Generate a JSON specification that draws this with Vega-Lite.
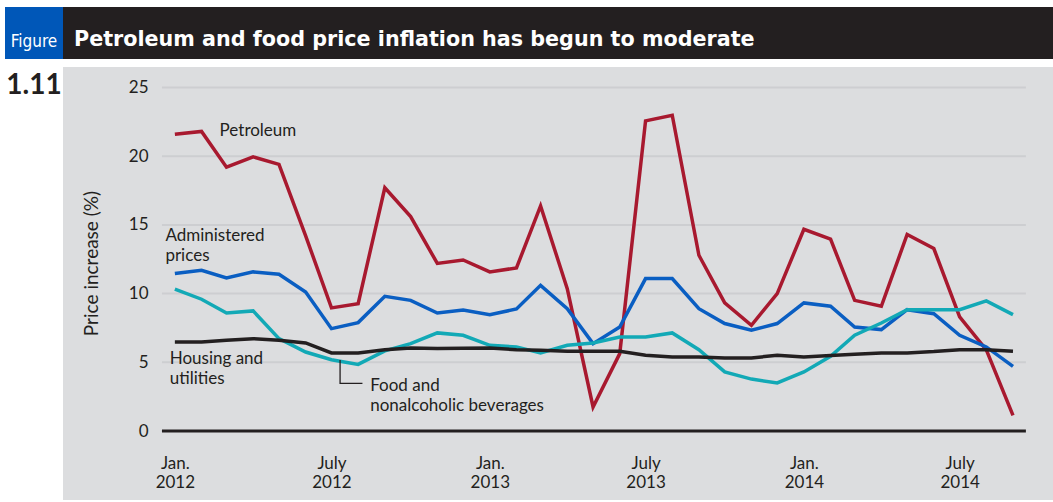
{
  "$schema": "https://vega.github.io/schema/vega-lite/v6.json",
  "padding": {"left": 5, "top": 7, "right": 0, "bottom": 0},
  "background": "#ffffff",
  "config": {"view": {"stroke": null}, "font": "Lato"},
  "datasets": {
    "prices": [
      {"series": "Petroleum", "date": "2012-01-01", "value": 21.6},
      {"series": "Petroleum", "date": "2012-02-01", "value": 21.8},
      {"series": "Petroleum", "date": "2012-03-01", "value": 19.2},
      {"series": "Petroleum", "date": "2012-04-01", "value": 19.95},
      {"series": "Petroleum", "date": "2012-05-01", "value": 19.4},
      {"series": "Petroleum", "date": "2012-06-01", "value": 14.2},
      {"series": "Petroleum", "date": "2012-07-01", "value": 8.96},
      {"series": "Petroleum", "date": "2012-08-01", "value": 9.27},
      {"series": "Petroleum", "date": "2012-09-01", "value": 17.7},
      {"series": "Petroleum", "date": "2012-10-01", "value": 15.6},
      {"series": "Petroleum", "date": "2012-11-01", "value": 12.2},
      {"series": "Petroleum", "date": "2012-12-01", "value": 12.45},
      {"series": "Petroleum", "date": "2013-01-01", "value": 11.58},
      {"series": "Petroleum", "date": "2013-02-01", "value": 11.87},
      {"series": "Petroleum", "date": "2013-03-01", "value": 16.38},
      {"series": "Petroleum", "date": "2013-04-01", "value": 10.36},
      {"series": "Petroleum", "date": "2013-05-01", "value": 1.75},
      {"series": "Petroleum", "date": "2013-06-01", "value": 5.63},
      {"series": "Petroleum", "date": "2013-07-01", "value": 22.57},
      {"series": "Petroleum", "date": "2013-08-01", "value": 22.98},
      {"series": "Petroleum", "date": "2013-09-01", "value": 12.79},
      {"series": "Petroleum", "date": "2013-10-01", "value": 9.32},
      {"series": "Petroleum", "date": "2013-11-01", "value": 7.69},
      {"series": "Petroleum", "date": "2013-12-01", "value": 10.0},
      {"series": "Petroleum", "date": "2014-01-01", "value": 14.68},
      {"series": "Petroleum", "date": "2014-02-01", "value": 13.96},
      {"series": "Petroleum", "date": "2014-03-01", "value": 9.51},
      {"series": "Petroleum", "date": "2014-04-01", "value": 9.08},
      {"series": "Petroleum", "date": "2014-05-01", "value": 14.3},
      {"series": "Petroleum", "date": "2014-06-01", "value": 13.28},
      {"series": "Petroleum", "date": "2014-07-01", "value": 8.3},
      {"series": "Petroleum", "date": "2014-08-01", "value": 5.9},
      {"series": "Petroleum", "date": "2014-09-01", "value": 1.14},
      {"series": "Administered prices", "date": "2012-01-01", "value": 11.46},
      {"series": "Administered prices", "date": "2012-02-01", "value": 11.7},
      {"series": "Administered prices", "date": "2012-03-01", "value": 11.14},
      {"series": "Administered prices", "date": "2012-04-01", "value": 11.58},
      {"series": "Administered prices", "date": "2012-05-01", "value": 11.41},
      {"series": "Administered prices", "date": "2012-06-01", "value": 10.12},
      {"series": "Administered prices", "date": "2012-07-01", "value": 7.45},
      {"series": "Administered prices", "date": "2012-08-01", "value": 7.89},
      {"series": "Administered prices", "date": "2012-09-01", "value": 9.8},
      {"series": "Administered prices", "date": "2012-10-01", "value": 9.51},
      {"series": "Administered prices", "date": "2012-11-01", "value": 8.59},
      {"series": "Administered prices", "date": "2012-12-01", "value": 8.8},
      {"series": "Administered prices", "date": "2013-01-01", "value": 8.47},
      {"series": "Administered prices", "date": "2013-02-01", "value": 8.88},
      {"series": "Administered prices", "date": "2013-03-01", "value": 10.6},
      {"series": "Administered prices", "date": "2013-04-01", "value": 8.9},
      {"series": "Administered prices", "date": "2013-05-01", "value": 6.36},
      {"series": "Administered prices", "date": "2013-06-01", "value": 7.57},
      {"series": "Administered prices", "date": "2013-07-01", "value": 11.09},
      {"series": "Administered prices", "date": "2013-08-01", "value": 11.09},
      {"series": "Administered prices", "date": "2013-09-01", "value": 8.9},
      {"series": "Administered prices", "date": "2013-10-01", "value": 7.82},
      {"series": "Administered prices", "date": "2013-11-01", "value": 7.33},
      {"series": "Administered prices", "date": "2013-12-01", "value": 7.82},
      {"series": "Administered prices", "date": "2014-01-01", "value": 9.32},
      {"series": "Administered prices", "date": "2014-02-01", "value": 9.08},
      {"series": "Administered prices", "date": "2014-03-01", "value": 7.57},
      {"series": "Administered prices", "date": "2014-04-01", "value": 7.38},
      {"series": "Administered prices", "date": "2014-05-01", "value": 8.83},
      {"series": "Administered prices", "date": "2014-06-01", "value": 8.54},
      {"series": "Administered prices", "date": "2014-07-01", "value": 6.97},
      {"series": "Administered prices", "date": "2014-08-01", "value": 6.12},
      {"series": "Administered prices", "date": "2014-09-01", "value": 4.71},
      {"series": "Food and nonalcoholic beverages", "date": "2012-01-01", "value": 10.32},
      {"series": "Food and nonalcoholic beverages", "date": "2012-02-01", "value": 9.59},
      {"series": "Food and nonalcoholic beverages", "date": "2012-03-01", "value": 8.59},
      {"series": "Food and nonalcoholic beverages", "date": "2012-04-01", "value": 8.74},
      {"series": "Food and nonalcoholic beverages", "date": "2012-05-01", "value": 6.72},
      {"series": "Food and nonalcoholic beverages", "date": "2012-06-01", "value": 5.75},
      {"series": "Food and nonalcoholic beverages", "date": "2012-07-01", "value": 5.19},
      {"series": "Food and nonalcoholic beverages", "date": "2012-08-01", "value": 4.85},
      {"series": "Food and nonalcoholic beverages", "date": "2012-09-01", "value": 5.83},
      {"series": "Food and nonalcoholic beverages", "date": "2012-10-01", "value": 6.36},
      {"series": "Food and nonalcoholic beverages", "date": "2012-11-01", "value": 7.14},
      {"series": "Food and nonalcoholic beverages", "date": "2012-12-01", "value": 6.97},
      {"series": "Food and nonalcoholic beverages", "date": "2013-01-01", "value": 6.24},
      {"series": "Food and nonalcoholic beverages", "date": "2013-02-01", "value": 6.12},
      {"series": "Food and nonalcoholic beverages", "date": "2013-03-01", "value": 5.68},
      {"series": "Food and nonalcoholic beverages", "date": "2013-04-01", "value": 6.24},
      {"series": "Food and nonalcoholic beverages", "date": "2013-05-01", "value": 6.41},
      {"series": "Food and nonalcoholic beverages", "date": "2013-06-01", "value": 6.84},
      {"series": "Food and nonalcoholic beverages", "date": "2013-07-01", "value": 6.84},
      {"series": "Food and nonalcoholic beverages", "date": "2013-08-01", "value": 7.14},
      {"series": "Food and nonalcoholic beverages", "date": "2013-09-01", "value": 5.92},
      {"series": "Food and nonalcoholic beverages", "date": "2013-10-01", "value": 4.3},
      {"series": "Food and nonalcoholic beverages", "date": "2013-11-01", "value": 3.78},
      {"series": "Food and nonalcoholic beverages", "date": "2013-12-01", "value": 3.5},
      {"series": "Food and nonalcoholic beverages", "date": "2014-01-01", "value": 4.3},
      {"series": "Food and nonalcoholic beverages", "date": "2014-02-01", "value": 5.44},
      {"series": "Food and nonalcoholic beverages", "date": "2014-03-01", "value": 6.97},
      {"series": "Food and nonalcoholic beverages", "date": "2014-04-01", "value": 7.86},
      {"series": "Food and nonalcoholic beverages", "date": "2014-05-01", "value": 8.83},
      {"series": "Food and nonalcoholic beverages", "date": "2014-06-01", "value": 8.83},
      {"series": "Food and nonalcoholic beverages", "date": "2014-07-01", "value": 8.83},
      {"series": "Food and nonalcoholic beverages", "date": "2014-08-01", "value": 9.47},
      {"series": "Food and nonalcoholic beverages", "date": "2014-09-01", "value": 8.47},
      {"series": "Housing and utilities", "date": "2012-01-01", "value": 6.48},
      {"series": "Housing and utilities", "date": "2012-02-01", "value": 6.48},
      {"series": "Housing and utilities", "date": "2012-03-01", "value": 6.6},
      {"series": "Housing and utilities", "date": "2012-04-01", "value": 6.72},
      {"series": "Housing and utilities", "date": "2012-05-01", "value": 6.6},
      {"series": "Housing and utilities", "date": "2012-06-01", "value": 6.41},
      {"series": "Housing and utilities", "date": "2012-07-01", "value": 5.68},
      {"series": "Housing and utilities", "date": "2012-08-01", "value": 5.68},
      {"series": "Housing and utilities", "date": "2012-09-01", "value": 5.92},
      {"series": "Housing and utilities", "date": "2012-10-01", "value": 6.04},
      {"series": "Housing and utilities", "date": "2012-11-01", "value": 6.0},
      {"series": "Housing and utilities", "date": "2012-12-01", "value": 6.02},
      {"series": "Housing and utilities", "date": "2013-01-01", "value": 6.04},
      {"series": "Housing and utilities", "date": "2013-02-01", "value": 5.92},
      {"series": "Housing and utilities", "date": "2013-03-01", "value": 5.87},
      {"series": "Housing and utilities", "date": "2013-04-01", "value": 5.8},
      {"series": "Housing and utilities", "date": "2013-05-01", "value": 5.8},
      {"series": "Housing and utilities", "date": "2013-06-01", "value": 5.8},
      {"series": "Housing and utilities", "date": "2013-07-01", "value": 5.51},
      {"series": "Housing and utilities", "date": "2013-08-01", "value": 5.39},
      {"series": "Housing and utilities", "date": "2013-09-01", "value": 5.39},
      {"series": "Housing and utilities", "date": "2013-10-01", "value": 5.32},
      {"series": "Housing and utilities", "date": "2013-11-01", "value": 5.32},
      {"series": "Housing and utilities", "date": "2013-12-01", "value": 5.51},
      {"series": "Housing and utilities", "date": "2014-01-01", "value": 5.39},
      {"series": "Housing and utilities", "date": "2014-02-01", "value": 5.49},
      {"series": "Housing and utilities", "date": "2014-03-01", "value": 5.58},
      {"series": "Housing and utilities", "date": "2014-04-01", "value": 5.68},
      {"series": "Housing and utilities", "date": "2014-05-01", "value": 5.68},
      {"series": "Housing and utilities", "date": "2014-06-01", "value": 5.78},
      {"series": "Housing and utilities", "date": "2014-07-01", "value": 5.92},
      {"series": "Housing and utilities", "date": "2014-08-01", "value": 5.92},
      {"series": "Housing and utilities", "date": "2014-09-01", "value": 5.8}
    ],
    "grid": [
      {"value": 0, "date": "2011-12-17", "end": "2014-09-16"},
      {"value": 5, "date": "2011-12-17", "end": "2014-09-16"},
      {"value": 10, "date": "2011-12-17", "end": "2014-09-16"},
      {"value": 15, "date": "2011-12-17", "end": "2014-09-16"},
      {"value": 20, "date": "2011-12-17", "end": "2014-09-16"},
      {"value": 25, "date": "2011-12-17", "end": "2014-09-16"}
    ],
    "labels": [
      {"label": "Petroleum", "date": "2012-02-22", "value": 21.47},
      {"label": "Administered\nprices", "date": "2011-12-21", "value": 13.83},
      {"label": "Housing and\nutilities", "date": "2011-12-26", "value": 4.88},
      {"label": "Food and\nnonalcoholic beverages", "date": "2012-08-15", "value": 2.93}
    ],
    "leader": [
      {"step": 1, "date": "2012-07-11", "value": 5.17},
      {"step": 2, "date": "2012-07-11", "value": 3.47},
      {"step": 3, "date": "2012-08-06", "value": 3.47}
    ]
  },
  "vconcat": [
    {
      "hconcat": [
        {
          "width": 58, "height": 52,
          "view": {"fill": "#0057b8", "stroke": null},
          "title": {"text": "Figure", "orient": "bottom", "anchor": "middle", "offset": -25, "color": "#ffffff", "fontSize": 17, "fontWeight": "normal", "font": "DejaVu Sans Condensed"},
          "data": {"values": []},
          "mark": "rule",
          "encoding": {}
        },
        {
          "width": 990, "height": 52,
          "view": {"fill": "#231f20", "stroke": null},
          "title": {"text": "Petroleum and food price inflation has begun to moderate", "orient": "bottom", "anchor": "start", "offset": -29, "dx": 11, "color": "#ffffff", "fontSize": 20.7, "fontWeight": "bold", "font": "DejaVu Sans"},
          "data": {"values": []},
          "mark": "rule",
          "encoding": {}
        }
      ],
      "spacing": 0
    },
    {
      "hconcat": [
        {
          "width": 58, "height": 433,
          "view": {"fill": "#ffffff", "stroke": null},
          "title": {"text": "1.11", "orient": "top", "anchor": "middle", "offset": -33, "color": "#231f20", "fontSize": 28, "fontWeight": "bold", "font": "Lato"},
          "data": {"values": []},
          "mark": "rule",
          "encoding": {}
        },
        {
          "width": 990, "height": 433,
          "view": {"fill": "#dcdddf", "stroke": null},
          "layer": [
            {
              "data": {"name": "grid"},
              "transform": [{"filter": "datum.value > 0"}],
              "mark": {"type": "rule", "color": "#cdced1", "strokeWidth": 2},
              "encoding": {
                "x": {"field": "date", "type": "temporal"},
                "x2": {"field": "end"},
                "y": {"field": "value", "type": "quantitative"}
              }
            },
            {
              "data": {"name": "prices"},
              "mark": {"type": "line", "strokeWidth": 3.5},
              "encoding": {
                "x": {
                  "field": "date", "type": "temporal",
                  "scale": {"type": "utc", "nice": false, "domain": [{"year": 2011, "month": 8, "date": 24, "utc": true}, {"year": 2014, "month": 10, "date": 17, "hours": 12, "utc": true}]},
                  "axis": {
                    "title": null, "orient": "bottom", "offset": -45, "domain": false, "ticks": false, "grid": false,
                    "labelPadding": 0, "labelFlush": false, "labelOverlap": false,
                    "values": [
                      {"year": 2012, "month": 1, "date": 1, "utc": true},
                      {"year": 2012, "month": 7, "date": 1, "utc": true},
                      {"year": 2013, "month": 1, "date": 1, "utc": true},
                      {"year": 2013, "month": 7, "date": 1, "utc": true},
                      {"year": 2014, "month": 1, "date": 1, "utc": true},
                      {"year": 2014, "month": 7, "date": 1, "utc": true}
                    ],
                    "labelExpr": "[utcmonth(datum.value) == 0 ? 'Jan.' : 'July', '' + utcyear(datum.value)]",
                    "labelFontSize": 17, "labelLineHeight": 19, "labelColor": "#231f20", "labelFont": "Lato", "labelBaseline": "top"
                  }
                },
                "y": {
                  "field": "value", "type": "quantitative",
                  "scale": {"domain": [-5.02, 26.49], "nice": false, "zero": false},
                  "axis": {
                    "title": "Price increase (%)", "orient": "left", "offset": -90, "domain": false, "ticks": false, "grid": false,
                    "labelPadding": 5, "values": [0, 5, 10, 15, 20, 25],
                    "labelFontSize": 17, "labelColor": "#231f20", "labelFont": "Lato",
                    "titleFontSize": 19, "titleFont": "Lato", "titleFontWeight": "normal", "titleColor": "#231f20", "titlePadding": 27, "titleY": 196
                  }
                },
                "color": {
                  "field": "series", "type": "nominal",
                  "scale": {"domain": ["Housing and utilities", "Food and nonalcoholic beverages", "Administered prices", "Petroleum"], "range": ["#231f20", "#12a9b6", "#0a5ec2", "#a8192f"]},
                  "legend": null
                }
              }
            },
            {
              "data": {"name": "grid"},
              "transform": [{"filter": "datum.value == 0"}],
              "mark": {"type": "rule", "color": "#231f20", "strokeWidth": 3},
              "encoding": {
                "x": {"field": "date", "type": "temporal"},
                "x2": {"field": "end"},
                "y": {"field": "value", "type": "quantitative"}
              }
            },
            {
              "data": {"name": "leader"},
              "mark": {"type": "line", "color": "#231f20", "strokeWidth": 1.3},
              "encoding": {
                "x": {"field": "date", "type": "temporal"},
                "y": {"field": "value", "type": "quantitative"},
                "order": {"field": "step"}
              }
            },
            {
              "data": {"name": "labels"},
              "mark": {"type": "text", "align": "left", "baseline": "alphabetic", "fontSize": 17, "font": "Lato", "color": "#231f20", "lineBreak": "\n", "lineHeight": 20},
              "encoding": {
                "x": {"field": "date", "type": "temporal"},
                "y": {"field": "value", "type": "quantitative"},
                "text": {"field": "label"}
              }
            }
          ]
        }
      ],
      "spacing": 0
    }
  ],
  "spacing": 8
}
